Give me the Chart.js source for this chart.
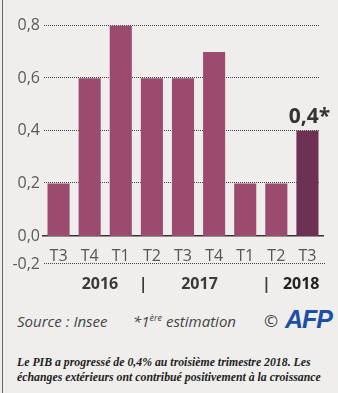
<!DOCTYPE html>
<html>
<head>
<meta charset="utf-8">
<script src="https://cdn.jsdelivr.net/npm/chart.js@4"></script>
<style>
  body { margin: 0; background: #efeeec; }
  #wrap { position: relative; width: 338px; height: 393px; overflow: hidden; background: #efeeec; }
  #frame { position: absolute; left: 2px; top: 0; width: 1px; height: 393px; background: #666; }
  canvas { position: absolute; left: 0; top: 0; }
  .src { position: absolute; top: 311px; font-family: "Open Sans", sans-serif; font-style: italic; font-size: 15px; color: #444; white-space: nowrap; }
  .src sup { font-size: 9px; vertical-align: 6px; }
  .afp { position: absolute; top: 305px; left: 285px; font-family: "Liberation Sans", sans-serif; font-weight: bold; font-style: italic; font-size: 25px; color: #1f4ea5; letter-spacing: -1px; }
  .copy { position: absolute; top: 309px; left: 264px; font-family: "Open Sans", sans-serif; font-size: 17px; color: #444; }
  .caption { position: absolute; top: 355px; left: 17px; font-family: "Liberation Serif", serif; font-weight: bold; font-style: italic; font-size: 11.8px; line-height: 15px; color: #222; white-space: nowrap; }
</style>
</head>
<body>
<div id="wrap">
  <canvas id="chart" width="338" height="300"></canvas>
  <div id="frame"></div>
  <div class="src" style="left:17px">Source : Insee</div>
  <div class="src" style="left:133px">*1<sup>ère</sup> estimation</div>
  <div class="copy">©</div>
  <div class="afp">AFP</div>
  <div class="caption">Le PIB a progressé de 0,4% au troisième trimestre 2018. Les<br>échanges extérieurs ont contribué positivement à la croissance</div>
</div>
<script>
const quarters = ["T3", "T4", "T1", "T2", "T3", "T4", "T1", "T2", "T3"];
const growth = [0.2, 0.6, 0.8, 0.6, 0.6, 0.7, 0.2, 0.2, 0.4];
const years = ["2016", "2017", "2018"];
const yTicks = [0, 0.2, 0.4, 0.6, 0.8];
const lowTick = -0.2;
const lastLabel = "0,4*";

const barColor = "#9b4b6e";
const lastColor = "#6d3253";
const dotColor = "#444";

function fmt(v) {
    return v.toFixed(1).replace(".", ",");
}

function dotted(ctx, x1, x2, y) {
    ctx.save();
    ctx.fillStyle = dotColor;
    // fine dots, one every 2px
    for (let px = Math.round(x1); px < x2; px += 2) {
        ctx.fillRect(px, Math.round(y) - 1, 1, 1);
    }
    ctx.restore();
}

// dotted guide lines behind the bars, extra -0,2 row and the years
const extras = {
    id: "extras",
    beforeDatasetsDraw(chart) {
        const y = chart.scales.y;
        const area = chart.chartArea;
        yTicks.forEach(v => {
            if (v === 0) return;
            dotted(chart.ctx, area.left + 1, area.right - 3, y.getPixelForValue(v));
        });
    },
    afterDraw(chart) {
        const ctx = chart.ctx;
        const x = chart.scales.x;
        const area = chart.chartArea;

        const lowY = 264;
        dotted(ctx, area.left + 1, area.right + 2, lowY);
        ctx.save();
        ctx.font = "16px 'Open Sans'";
        ctx.fillStyle = "#5a5a5a";
        ctx.textAlign = "right";
        ctx.textBaseline = "middle";
        ctx.fillText(fmt(lowTick), area.left - 3, lowY);

        const yearY = 284;
        ctx.textAlign = "center";
        ctx.font = "bold 16px 'Open Sans'";
        ctx.fillStyle = "#3a3a3a";
        ctx.fillText(years[0], x.getPixelForValue(1.33), yearY);
        ctx.fillText("|", x.getPixelForValue(2.72), yearY);
        ctx.fillText(years[1], x.getPixelForValue(4.53), yearY);
        ctx.fillText("|", x.getPixelForValue(6.68), yearY);
        ctx.fillStyle = "#222";
        ctx.fillText(years[2], x.getPixelForValue(7.8), yearY);

        // estimate label over the last bar
        const meta = chart.getDatasetMeta(0);
        const bar = meta.data[meta.data.length - 1];
        ctx.font = "bold 21px 'Open Sans'";
        ctx.fillStyle = "#333";
        ctx.textBaseline = "bottom";
        ctx.fillText(lastLabel, bar.x + 2, bar.y - 3);
        ctx.restore();
    }
};

new Chart(document.getElementById("chart"), {
    type: "bar",
    data: {
        labels: quarters,
        datasets: [{
            data: growth,
            backgroundColor: growth.map((v, i) => i === growth.length - 1 ? lastColor : barColor),
            barPercentage: 0.71,
            categoryPercentage: 1
        }]
    },
    options: {
        responsive: false,
        animation: false,
        devicePixelRatio: 1,
        layout: { padding: { top: 8, right: 15, left: 0, bottom: 0 } },
        plugins: {
            legend: { display: false },
            tooltip: { enabled: false }
        },
        scales: {
            x: {
                grid: { display: false },
                border: { display: true, color: "#333", width: 1.5 },
                ticks: {
                    color: "#555",
                    font: { family: "'Open Sans'", size: 16 },
                    padding: 3,
                    maxRotation: 0
                },
                afterFit(scale) { scale.height = 64; }
            },
            y: {
                min: 0,
                max: 0.85,
                grid: { display: false, drawTicks: false },
                border: { display: false },
                afterBuildTicks(scale) { scale.ticks = yTicks.map(v => ({ value: v })); },
                ticks: {
                    color: "#5a5a5a",
                    font: { family: "'Open Sans'", size: 16 },
                    padding: 3,
                    callback: v => fmt(v)
                },
                afterFit(scale) { scale.width = 43; }
            }
        }
    },
    plugins: [extras]
});
</script>
</body>
</html>
